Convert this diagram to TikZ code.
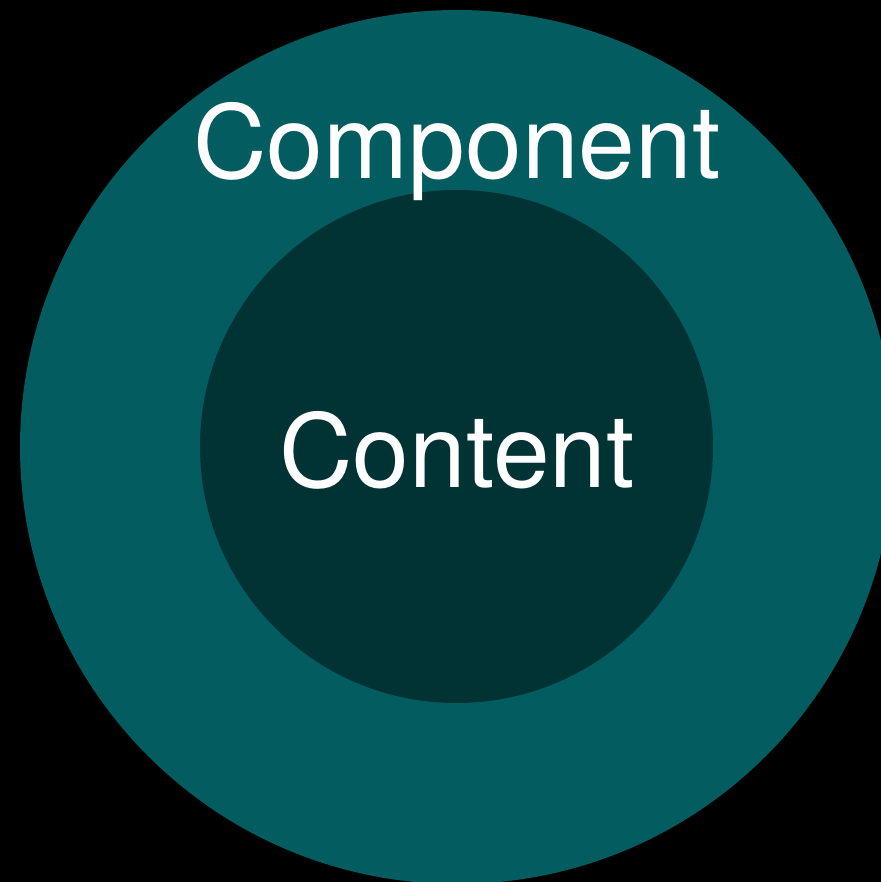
\documentclass[tikz,border=0pt]{standalone}
\usepackage{fontspec}
\setmainfont{TeX Gyre Heros}
\usepackage{xcolor}
\definecolor{ringteal}{HTML}{025C60}
\definecolor{coredark}{HTML}{013335}
\tikzset{
  label text/.style={text=white, anchor=base, inner sep=0pt, font=\fontsize{29}{34}\selectfont},
}
\begin{document}
\begin{tikzpicture}
                \useasboundingbox (0, 0) rectangle (8.81, 8.82);
                \fill[black] (0, 0) rectangle (8.81, 8.82);
                \clip (0, 0) rectangle (8.81, 8.82);

                \fill[ringteal] (4.57, 4.35) circle (4.37);
                \fill[coredark] (4.565, 4.355) circle (2.565);

                \node[label text] (Component) at (4.57, 7.04) {Component};
                \node[label text] (Content) at (4.57, 3.95) {Content};
            \end{tikzpicture}
\end{document}
